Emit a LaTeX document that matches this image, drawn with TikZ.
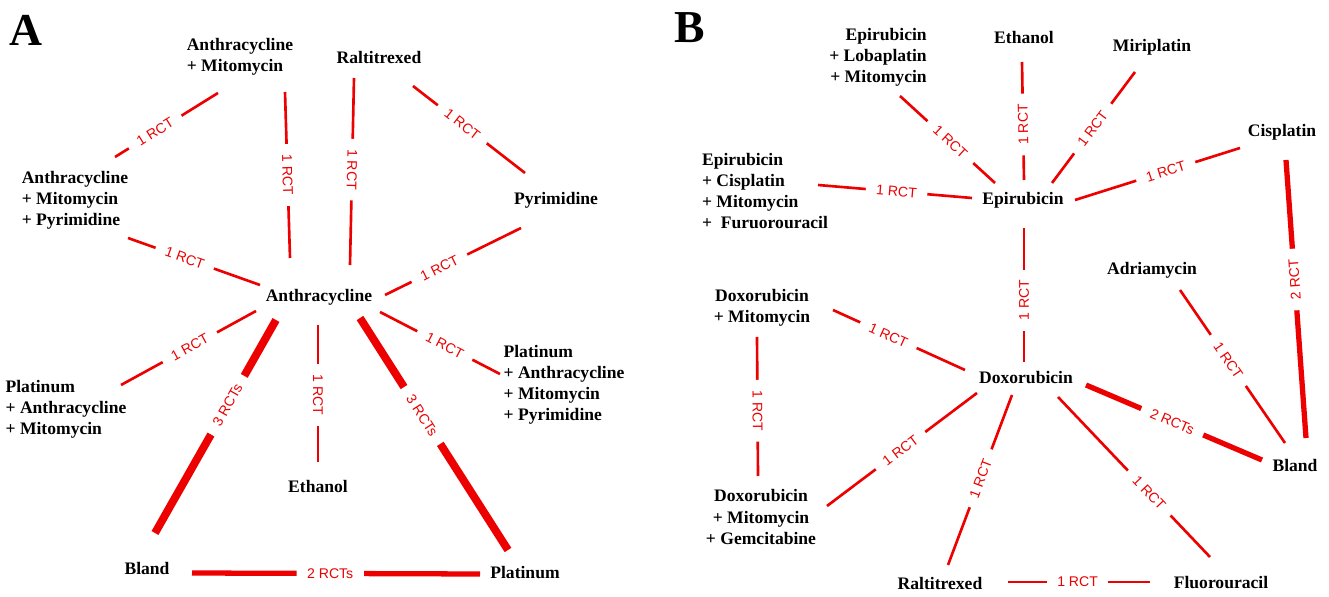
\documentclass[tikz,border=0pt]{standalone}
\usepackage{fontspec}
\setmainfont{Liberation Serif}
\newfontfamily\rctfont{Liberation Sans}
\usetikzlibrary{positioning}
\definecolor{rctred}{RGB}{236,0,0}
\tikzset{%
drug/.style={font=\bfseries\fontsize{10}{12}\selectfont,inner sep=1pt},
panel/.style={font=\bfseries\fontsize{26}{26}\selectfont,inner sep=0pt},
rct/.style={draw=rctred,line width=1.5pt},
tworcts/.style={rct,line width=3pt},
threercts/.style={rct,line width=4.5pt},
rctlabel/.style={font=\rctfont\fontsize{8}{9}\selectfont,text=rctred,fill=white,
  inner xsep=6pt,inner ysep=1pt,sloped,allow upside down}
}

\begin{document}
\begin{tikzpicture}[x=0.02cm,y=-0.02cm]
    \useasboundingbox (0,0) rectangle (1329,597);

    % panel A
    \node[panel] (labA)   at (26,30)   {A};
    \node[drug]  (amA)    at (240,57)  [align=left] {Anthracycline\\+ Mitomycin};
    \node[drug]  (raltA)  at (379,57)  {Raltitrexed};
    \node[drug]  (ampA)   at (75,200)  [align=left] {Anthracycline\\+ Mitomycin\\+ Pyrimidine};
    \node[drug]  (pyrA)   at (556,200) {Pyrimidine};
    \node[drug]  (anthA)  at (319,297) {Anthracycline};
    \node[drug]  (platlA) at (66,409)  [align=left] {Platinum\\+ Anthracycline\\+ Mitomycin};
    \node[drug]  (platrA) at (564,385) [align=left] {Platinum\\+ Anthracycline\\+ Mitomycin\\+ Pyrimidine};
    \node[drug]  (ethA)   at (318,486) {Ethanol};
    \node[drug]  (blandA) at (147,568) {Bland};
    \node[drug]  (platA)  at (525,573) {Platinum};

    \draw[rct] ([shift={(40,-43)}]ampA.center) -- node[rctlabel,pos=.39] {1 RCT} ([shift={(-22,36)}]amA.center);
    \draw[rct] ([shift={(45,35)}]amA.center) -- node[rctlabel] {1 RCT} ([shift={(-29,-39)}]anthA.center);
    \draw[rct] ([shift={(-25,21)}]raltA.center) -- node[rctlabel,pos=.49] {1 RCT} ([shift={(31,-32)}]anthA.center);
    \draw[rct] ([shift={(34,29)}]raltA.center) -- node[rctlabel,pos=.44] {1 RCT} ([shift={(-31,-27)}]pyrA.center);
    \draw[rct] ([shift={(53,38)}]ampA.center) -- node[rctlabel,pos=.43] {1 RCT} ([shift={(-59,-12)}]anthA.center);
    \draw[rct] ([shift={(66,-2)}]anthA.center) -- node[rctlabel,pos=.40] {1 RCT} ([shift={(-35,28)}]pyrA.center);
    \draw[rct] ([shift={(55,-24)}]platlA.center) -- node[rctlabel,pos=.51] {1 RCT} ([shift={(-63,14)}]anthA.center);
    \draw[threercts] ([shift={(8,-35)}]blandA.center) -- node[rctlabel,pos=.60] {3 RCTs} ([shift={(-43,23)}]anthA.center);
    \draw[rct] ([shift={(-1,28)}]anthA.center) -- node[rctlabel,pos=.51] {1 RCT} ([shift={(0,-24)}]ethA.center);
    \draw[threercts] ([shift={(41,21)}]anthA.center) -- node[rctlabel,pos=.42] {3 RCTs} ([shift={(-17,-23)}]platA.center);
    \draw[rct] ([shift={(61,15)}]anthA.center) -- node[rctlabel,pos=.54] {1 RCT} ([shift={(-64,-11)}]platrA.center);
    \draw[tworcts] ([shift={(45,5)}]blandA.center) -- node[rctlabel,pos=.48] {2 RCTs} ([shift={(-45,1)}]platA.center);

    % panel B
    \node[panel] (labB)   at (690,28)   {B};
    \node[drug]  (elmB)   at (878,57)   [align=right] {Epirubicin\\+ Lobaplatin\\+ Mitomycin};
    \node[drug]  (ethB)   at (1024,37)  {Ethanol};
    \node[drug]  (miriB)  at (1152,47)  {Miriplatin};
    \node[drug]  (cisB)   at (1282,132) {Cisplatin};
    \node[drug]  (ecmfB)  at (765,191)  [align=left] {Epirubicin\\+ Cisplatin\\+ Mitomycin\\+\ \ Furuorouracil};
    \node[drug]  (epiB)   at (1023,200) {Epirubicin};
    \node[drug]  (adriB)  at (1152,270) {Adriamycin};
    \node[drug]  (dmB)    at (762,308)  [align=center] {Doxorubicin\\+ Mitomycin};
    \node[drug]  (doxB)   at (1026,378) {Doxorubicin};
    \node[drug]  (blandB) at (1295,465) {Bland};
    \node[drug]  (dmgB)   at (761,517)  [align=center] {Doxorubicin\\+ Mitomycin\\+ Gemcitabine};
    \node[drug]  (raltB)  at (940,583)  {Raltitrexed};
    \node[drug]  (fluoB)  at (1221,583) {Fluorouracil};

    \draw[rct] ([shift={(22,39)}]elmB.center) -- node[rctlabel,pos=.53] {1 RCT} ([shift={(-28,-17)}]epiB.center);
    \draw[rct] ([shift={(1,-20)}]epiB.center) -- node[rctlabel,pos=.47] {1 RCT} ([shift={(-2,25)}]ethB.center);
    \draw[rct] ([shift={(29,-17)}]epiB.center) -- node[rctlabel,pos=.49] {1 RCT} ([shift={(-17,25)}]miriB.center);
    \draw[rct] ([shift={(52,0)}]epiB.center) -- node[rctlabel,pos=.55] {1 RCT} ([shift={(-42,16)}]cisB.center);
    \draw[rct] ([shift={(53,-6)}]ecmfB.center) -- node[rctlabel,pos=.51] {1 RCT} ([shift={(-51,-2)}]epiB.center);
    \draw[rct] ([shift={(-2,-16)}]doxB.center) -- node[rctlabel,pos=.46] {1 RCT} ([shift={(1,28)}]epiB.center);
    \draw[tworcts] ([shift={(11,-27)}]blandB.center) -- node[rctlabel,pos=.57] {2 RCT} ([shift={(4,28)}]cisB.center);
    \draw[rct] ([shift={(28,20)}]adriB.center) -- node[rctlabel,pos=.46] {1 RCT} ([shift={(-10,-22)}]blandB.center);
    \draw[rct] ([shift={(71,2)}]dmB.center) -- node[rctlabel,pos=.42] {1 RCT} ([shift={(-61,-8)}]doxB.center);
    \draw[rct] ([shift={(-5,29)}]dmB.center) -- node[rctlabel,pos=.53] {1 RCT} ([shift={(-3,-41)}]dmgB.center);
    \draw[tworcts] ([shift={(60,7)}]doxB.center) -- node[rctlabel,pos=.49] {2 RCTs} ([shift={(-33,-5)}]blandB.center);
    \draw[rct] ([shift={(66,-11)}]dmgB.center) -- node[rctlabel,pos=.49] {1 RCT} ([shift={(-49,15)}]doxB.center);
    \draw[rct] ([shift={(8,-18)}]raltB.center) -- node[rctlabel,pos=.51] {1 RCT} ([shift={(-14,17)}]doxB.center);
    \draw[rct] ([shift={(32,19)}]doxB.center) -- node[rctlabel,pos=.6] {1 RCT} ([shift={(-11,-26)}]fluoB.center);
    \draw[rct] ([shift={(68,-1)}]raltB.center) -- node[rctlabel,pos=.49] {1 RCT} ([shift={(-71,-1)}]fluoB.center);

\end{tikzpicture}
\end{document}
